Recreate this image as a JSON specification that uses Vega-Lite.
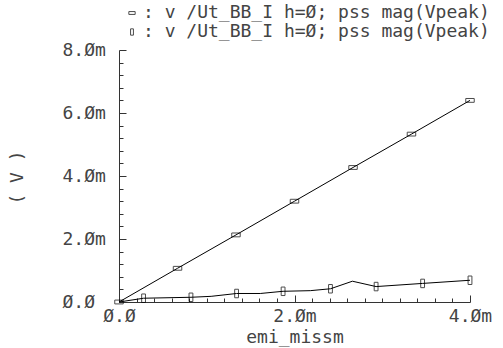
{
  "$schema": "https://vega.github.io/schema/vega-lite/v6.json",
  "autosize": {"type": "none"},
  "padding": {"left": 119, "top": 50, "right": 33, "bottom": 46},
  "width": 351,
  "height": 252,
  "background": "white",
  "config": {"view": {"stroke": null}, "font": "DejaVu Sans Mono"},
  "data": {"values": [
    {"s": "A", "x": 0.0, "y": 0.0, "m": true},
    {"s": "A", "x": 0.000667, "y": 0.00107, "m": true},
    {"s": "A", "x": 0.001333, "y": 0.00213, "m": true},
    {"s": "A", "x": 0.002, "y": 0.0032, "m": true},
    {"s": "A", "x": 0.002667, "y": 0.00427, "m": true},
    {"s": "A", "x": 0.003333, "y": 0.00533, "m": true},
    {"s": "A", "x": 0.004, "y": 0.0064, "m": true},
    {"s": "B", "x": 0.0, "y": 0.0, "m": false},
    {"s": "B", "x": 0.00028, "y": 0.00012, "m": true},
    {"s": "B", "x": 0.00082, "y": 0.00015, "m": true},
    {"s": "B", "x": 0.00105, "y": 0.00018, "m": false},
    {"s": "B", "x": 0.00134, "y": 0.00027, "m": true},
    {"s": "B", "x": 0.00161, "y": 0.00027, "m": false},
    {"s": "B", "x": 0.00187, "y": 0.00034, "m": true},
    {"s": "B", "x": 0.00218, "y": 0.00036, "m": false},
    {"s": "B", "x": 0.00241, "y": 0.00042, "m": true},
    {"s": "B", "x": 0.00266, "y": 0.00066, "m": false},
    {"s": "B", "x": 0.00293, "y": 0.00049, "m": true},
    {"s": "B", "x": 0.00346, "y": 0.00059, "m": true},
    {"s": "B", "x": 0.004, "y": 0.00069, "m": true}
  ]},
  "layer": [
    {
      "mark": {"type": "line", "color": "black", "strokeWidth": 1},
      "encoding": {
        "x": {"field": "x", "type": "quantitative", "scale": {"domain": [0, 0.004], "nice": false},
          "axis": {"orient": "bottom", "values": [0, 0.002, 0.004], "tickSize": -7, "tickColor": "#333", "domainColor": "#333",
            "labelExpr": "replace(datum.value == 0 ? '0.0' : format(datum.value*1000, '.1f') + 'm', regexp('0', 'g'), 'Ø')",
            "labelFontSize": 18, "labelColor": "#444", "labelPadding": 12, "labelFlush": false,
            "title": "emi_missm", "titleFontSize": 18, "titleFontWeight": "normal", "titleColor": "#444", "titleY": 40, "titleBaseline": "alphabetic", "grid": false}},
        "y": {"field": "y", "type": "quantitative", "scale": {"domain": [0, 0.008], "nice": false},
          "axis": {"orient": "left", "values": [0, 0.002, 0.004, 0.006, 0.008], "tickSize": -7, "tickColor": "#333", "domainColor": "#333",
            "labelExpr": "replace(datum.value == 0 ? '0.0' : format(datum.value*1000, '.1f') + 'm', regexp('0', 'g'), 'Ø')",
            "labelFontSize": 18, "labelColor": "#444", "labelPadding": 64, "labelAlign": "left", "labelFlush": false,
            "title": "( V )", "titleFontSize": 18, "titleFontWeight": "normal", "titleColor": "#444", "titleX": -102, "titleY": 127, "titleAngle": -90, "titleAlign": "center", "titleBaseline": "middle", "grid": false}},
        "detail": {"field": "s"}
      }
    },
    {
      "transform": [{"filter": "datum.m"}],
      "mark": {"type": "point", "filled": false, "stroke": "black", "strokeWidth": 1, "size": 72},
      "encoding": {
        "x": {"field": "x", "type": "quantitative",
          "axis": {"orient": "bottom", "values": [0.0002,0.0004,0.0006,0.0008,0.001,0.0012,0.0014,0.0016,0.0018,0.0022,0.0024,0.0026,0.0028,0.003,0.0032,0.0034,0.0036,0.0038], "tickSize": -4, "tickColor": "#333", "labels": false, "domain": false, "title": null, "grid": false}},
        "y": {"field": "y", "type": "quantitative",
          "axis": {"orient": "left", "values": [0.0004,0.0008,0.0012,0.0016,0.0024,0.0028,0.0032,0.0036,0.0044,0.0048,0.0052,0.0056,0.0064,0.0068,0.0072,0.0076], "tickSize": -4, "tickColor": "#333", "labels": false, "domain": false, "title": null, "grid": false}},
        "shape": {"field": "s", "type": "nominal",
          "scale": {"domain": ["A", "B"], "range": ["M-1,-0.45H1V0.45H-1Z", "M-0.45,-1H0.45V1H-0.45Z"]},
          "legend": {"orient": "none", "legendX": 4, "legendY": -46, "title": null, "direction": "vertical",
            "labelExpr": "': v /Ut_BB_I h=Ø; pss mag(Vpeak)'", "labelFontSize": 18, "labelColor": "#444", "labelLimit": 400,
            "symbolSize": 40, "symbolStrokeColor": "black", "symbolFillColor": "white", "symbolStrokeWidth": 1, "rowPadding": 1, "labelOffset": 2}}
      }
    }
  ],
  "resolve": {"axis": {"x": "independent", "y": "independent"}}
}
